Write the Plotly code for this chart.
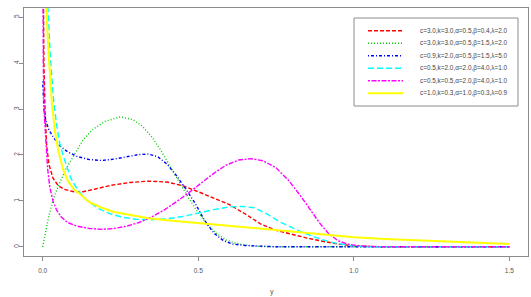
import plotly.graph_objects as go

# ---------------- data ----------------
red_x = [0.001, 0.004, 0.008, 0.013, 0.02, 0.033, 0.05, 0.07, 0.1, 0.13, 0.17, 0.22, 0.28, 0.34, 0.4, 0.45,
         0.5, 0.55, 0.6, 0.65, 0.7, 0.75, 0.8, 0.85, 0.9, 0.95, 1.0, 1.05, 1.1, 1.5]
red_y = [7.0, 4.0, 2.9, 2.2, 1.8, 1.5, 1.33, 1.25, 1.2, 1.2, 1.26, 1.34, 1.4, 1.43, 1.41, 1.33,
         1.2, 1.06, 0.92, 0.72, 0.5, 0.36, 0.27, 0.19, 0.12, 0.06, 0.02, 0.005, 0.0, 0.0]

green_x = [0.0, 0.01, 0.02, 0.035, 0.05, 0.075, 0.1, 0.13, 0.16, 0.2, 0.25, 0.29, 0.32, 0.35, 0.38, 0.41,
           0.44, 0.47, 0.5, 0.53, 0.56, 0.59, 0.62, 0.65, 0.69, 0.75, 1.5]
green_y = [0.0, 0.38, 0.68, 1.05, 1.32, 1.7, 2.0, 2.33, 2.55, 2.73, 2.83, 2.77, 2.63, 2.4, 2.1, 1.75,
           1.4, 1.05, 0.74, 0.48, 0.28, 0.15, 0.08, 0.04, 0.01, 0.0, 0.0]

blue_x = [0.0, 0.004, 0.01, 0.02, 0.035, 0.055, 0.08, 0.11, 0.15, 0.19, 0.23, 0.27, 0.31, 0.34, 0.37, 0.4,
          0.43, 0.46, 0.49, 0.52, 0.55, 0.58, 0.61, 0.65, 0.7, 0.75, 1.5]
blue_y = [3.6, 3.0, 2.75, 2.55, 2.38, 2.2, 2.07, 1.97, 1.9, 1.88, 1.91, 1.96, 2.01, 2.02, 1.96, 1.8,
          1.55, 1.26, 0.95, 0.58, 0.3, 0.14, 0.06, 0.03, 0.01, 0.0, 0.0]

cyan_x = [0.012, 0.017, 0.025, 0.035, 0.045, 0.055, 0.07, 0.09, 0.11, 0.14, 0.18, 0.22, 0.26, 0.3, 0.35, 0.4,
          0.45, 0.5, 0.55, 0.6, 0.64, 0.68, 0.72, 0.76, 0.8, 0.84, 0.88, 0.92, 0.96, 1.0, 1.05, 1.5]
cyan_y = [7.0, 5.2, 4.1, 3.2, 2.65, 2.25, 1.9, 1.5, 1.27, 1.02, 0.83, 0.71, 0.64, 0.6, 0.59, 0.61,
          0.66, 0.74, 0.81, 0.87, 0.88, 0.85, 0.72, 0.55, 0.42, 0.3, 0.2, 0.11, 0.06, 0.02, 0.0, 0.0]

magenta_x = [0.0005, 0.002, 0.005, 0.01, 0.016, 0.023, 0.033, 0.045, 0.06, 0.08, 0.11, 0.15, 0.19, 0.23, 0.27,
             0.31, 0.35, 0.39, 0.43, 0.47, 0.51, 0.55, 0.59, 0.63, 0.67, 0.71, 0.75, 0.79, 0.83, 0.86,
             0.89, 0.92, 0.95, 0.98, 1.02, 1.07, 1.12, 1.5]
magenta_y = [7.0, 4.0, 2.9, 2.2, 1.7, 1.3, 1.0, 0.8, 0.65, 0.53, 0.45, 0.4, 0.38, 0.4, 0.45,
             0.53, 0.65, 0.8, 0.98, 1.18, 1.4, 1.6, 1.78, 1.89, 1.92, 1.87, 1.72, 1.45, 1.1, 0.8,
             0.52, 0.28, 0.13, 0.06, 0.02, 0.005, 0.0, 0.0]

yellow_x = [0.008, 0.012, 0.018, 0.023, 0.03, 0.04, 0.05, 0.065, 0.08, 0.1, 0.12, 0.15, 0.19, 0.23, 0.28,
            0.34, 0.4, 0.5, 0.6, 0.7, 0.8, 0.9, 1.0, 1.1, 1.2, 1.3, 1.4, 1.5]
yellow_y = [7.0, 5.2, 4.3, 3.8, 3.1, 2.5, 2.1, 1.7, 1.45, 1.25, 1.15, 0.97, 0.85, 0.76, 0.69,
            0.62, 0.58, 0.52, 0.46, 0.4, 0.33, 0.27, 0.21, 0.17, 0.14, 0.11, 0.08, 0.06]

labels = ["c=3.0,k=3.0,α=0.5,β=0.4,λ=2.0",
          "c=3.0,k=3.0,α=0.5,β=1.5,λ=2.0",
          "c=0.9,k=2.0,α=0.5,β=1.5,λ=5.0",
          "c=0.5,k=2.0,α=2.0,β=4.0,λ=1.0",
          "c=0.5,k=0.5,α=2.0,β=4.0,λ=1.0",
          "c=1.0,k=0.3,α=1.0,β=0.3,λ=0.9"]

x_ticks = [0.0, 0.5, 1.0, 1.5]
x_ticklabels = ["0.0", "0.5", "1.0", "1.5"]
y_ticks = [0, 1, 2, 3, 4, 5]

# ---------------- styling ----------------
colors = ["#FF0000", "#00CD00", "#0000FF", "#00FFFF", "#FF00FF", "#FFFF00"]
dashes = ["4px,2px", "1px,2px", "1px,2px,3px,2px", "6px,3px", "2px,1.5px,5px,1.5px", "solid"]
widths = [1.4, 1.4, 1.4, 1.4, 1.4, 2.0]

series = [(red_x, red_y), (green_x, green_y), (blue_x, blue_y),
          (cyan_x, cyan_y), (magenta_x, magenta_y), (yellow_x, yellow_y)]

W, H = 531, 297
L, R, T, B = 24, 528, 8, 256  # plot area in pixels

FONT = "Liberation Sans, Arial, sans-serif"
AXC = "#8c8c8c"

fig = go.Figure()
for (xs, ys), c, d, w, lab in zip(series, colors, dashes, widths, labels):
    fig.add_trace(go.Scatter(x=xs, y=ys, mode="lines", name=lab,
                             line=dict(color=c, dash=d, width=w), showlegend=False))


def px_x(p):
    return (p - L) / (R - L)


def px_y(p):
    return (B - p) / (B - T)


shapes = []
annotations = []
# legend box
shapes.append(dict(type="rect", xref="paper", yref="paper",
                   x0=px_x(354), x1=px_x(518), y0=px_y(106), y1=px_y(18),
                   line=dict(color=AXC, width=1), fillcolor="white"))
for i, (c, d, w, lab) in enumerate(zip(colors, dashes, widths, labels)):
    yy = 30.7 + 12.5 * i
    shapes.append(dict(type="line", xref="paper", yref="paper",
                       x0=px_x(368), x1=px_x(403), y0=px_y(yy), y1=px_y(yy),
                       line=dict(color=c, dash=d, width=w)))
    annotations.append(dict(xref="paper", yref="paper", x=px_x(418), y=px_y(yy),
                            text=lab, showarrow=False, xanchor="left", yanchor="middle",
                            font=dict(family=FONT, size=6.4, color="#444444")))

# axis titles
annotations.append(dict(xref="paper", yref="paper", x=px_x(272), y=px_y(292),
                        text="y", showarrow=False, xanchor="center", yanchor="middle",
                        font=dict(family=FONT, size=7, color="#555555")))
annotations.append(dict(xref="paper", yref="paper", x=px_x(-4), y=px_y(124),
                        text="f(y)", showarrow=False, xanchor="center", yanchor="middle",
                        textangle=-90,
                        font=dict(family=FONT, size=7, color="#888888")))

fig.update_layout(
    width=W, height=H,
    margin=dict(l=L, r=W - R, t=T, b=H - B, pad=0),
    paper_bgcolor="white", plot_bgcolor="white",
    shapes=shapes, annotations=annotations,
    xaxis=dict(range=[-0.06, 1.56], tickvals=x_ticks, ticktext=x_ticklabels,
               ticks="outside", ticklen=4, tickcolor=AXC, tickwidth=1,
               showline=True, linecolor=AXC, linewidth=1, mirror=True,
               showgrid=False, zeroline=False, ticklabelstandoff=4,
               tickfont=dict(family=FONT, size=6.5, color="#555555")),
    yaxis=dict(range=[-0.2, 5.2], tickvals=y_ticks,
               ticks="outside", ticklen=4, tickcolor=AXC, tickwidth=1,
               showline=True, linecolor=AXC, linewidth=1, mirror=True,
               showgrid=False, zeroline=False, tickangle=-90, ticklabelstandoff=-3,
               tickfont=dict(family=FONT, size=6.5, color="#555555")),
)

fig.write_html("out.html")
